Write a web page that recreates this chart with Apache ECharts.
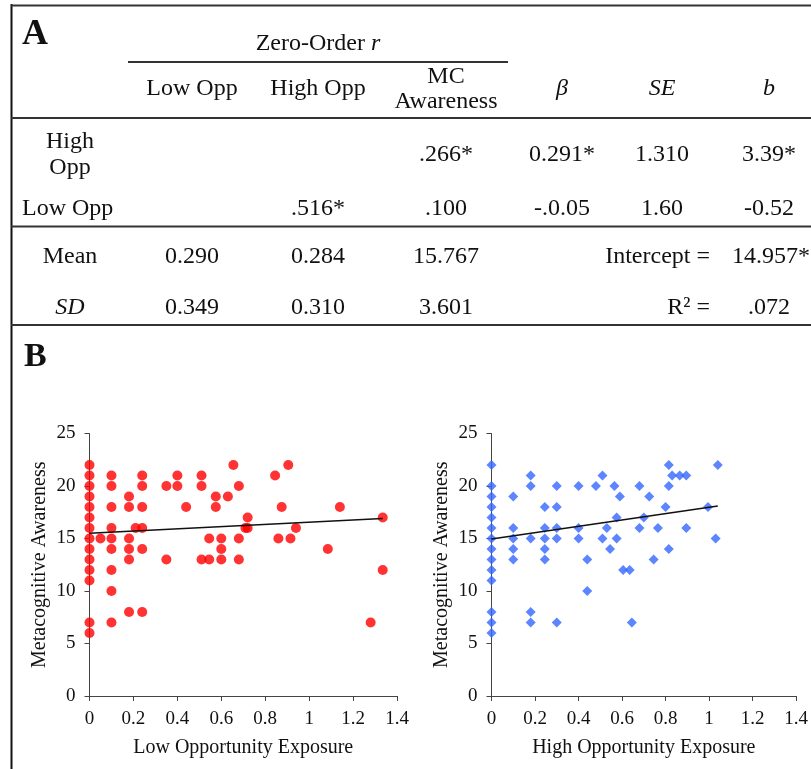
<!DOCTYPE html>
<html>
<head>
<meta charset="utf-8">
<script src="https://cdn.jsdelivr.net/npm/echarts@6/dist/echarts.min.js"></script>
<style>
html,body{margin:0;padding:0;background:#fff;}
#chart{width:811px;height:769px;}
</style>
</head>
<body>
<div id="chart"></div>
<script>
// ---------- Table (panel A) ----------
const zeroOrderTitle = 'Zero-Order {i|r}';
const colHeaders = ['Low Opp', 'High Opp', 'MC\nAwareness', '{i|β}', '{i|SE}', '{i|b}'];
const rowLabels = ['High\nOpp', 'Low Opp', 'Mean', '{i|SD}'];
const highOppRow = ['', '', '.266*', '0.291*', '1.310', '3.39*'];
const lowOppRow = ['', '.516*', '.100', '-.0.05', '1.60', '-0.52'];
const meanRow = ['0.290', '0.284', '15.767'];
const sdRow = ['0.349', '0.310', '3.601'];
const interceptLabel = 'Intercept =';
const interceptValue = '14.957*';
const r2Label = 'R² =';
const r2Value = '.072';

// ---------- Scatter data (panel B) ----------
const lowExposure = [
  0,0,0,0,0,0,0,0,0,0,0,0,0,0,
  0.05,
  0.1,0.1,0.1,0.1,0.1,0.1,0.1,0.1,0.1,
  0.18,0.18,0.18,0.18,0.18,0.18,
  0.21,
  0.24,0.24,0.24,0.24,0.24,0.24,
  0.35,0.35,
  0.4,0.4,
  0.44,
  0.51,0.51,0.51,
  0.545,0.545,
  0.575,0.575,
  0.6,0.6,0.6,
  0.63,
  0.655,
  0.68,0.68,0.68,
  0.71,
  0.72,0.72,
  0.845,
  0.86,
  0.875,
  0.905,
  0.915,
  0.94,
  1.085,
  1.14,
  1.28,
  1.335,1.335
];
const lowAwareness = [
  22,21,20,19,18,17,16,15,14,13,12,11,7,6,
  15,
  21,20,18,16,15,14,12,10,7,
  19,18,15,14,13,8,
  16,
  21,20,18,16,14,8,
  20,13,
  21,20,
  18,
  21,20,13,
  15,13,
  19,18,
  15,14,13,
  19,
  22,
  20,15,13,
  16,
  17,16,
  21,
  15,
  18,
  22,
  15,
  16,
  14,
  18,
  7,
  17,12
];
const highExposure = [
  0,0,0,0,0,0,0,0,0,0,0,0,0,0,
  0.1,0.1,0.1,0.1,0.1,
  0.18,0.18,0.18,0.18,0.18,
  0.245,0.245,0.245,0.245,0.245,
  0.3,0.3,0.3,0.3,0.3,
  0.4,0.4,0.4,
  0.44,0.44,
  0.48,
  0.51,0.51,
  0.53,
  0.545,
  0.565,
  0.575,0.575,
  0.59,
  0.605,
  0.635,
  0.645,
  0.68,0.68,
  0.7,
  0.725,
  0.745,
  0.765,
  0.8,
  0.815,0.815,0.815,
  0.83,
  0.865,
  0.895,0.895,
  0.995,
  1.03,
  1.04
];
const highAwareness = [
  22,20,19,18,17,16,15,14,13,12,11,8,7,6,
  19,16,15,14,13,
  21,20,15,8,7,
  18,16,15,14,13,
  20,18,16,15,7,
  20,16,15,
  13,10,
  20,
  21,15,
  16,
  14,
  20,
  17,15,
  19,
  12,
  12,
  7,
  20,16,
  17,
  19,
  13,
  16,
  18,
  22,20,14,
  21,
  21,
  21,16,
  18,
  15,
  22
];
const lowTrendX = [0, 1.335];
const lowTrendY = [15.5, 16.9];
const highTrendX = [0, 1.04];
const highTrendY = [14.95, 18.1];
const xTicks = { min: 0, max: 1.4, interval: 0.2 };
const yTicks = { min: 0, max: 25, interval: 5 };

const FONT = '"Liberation Serif", "Times New Roman", serif';
const TFS = 24;
const ital = { i: { fontStyle: 'italic', fontFamily: FONT, fontSize: TFS, fill: '#111' } };

function txt(text, x, y, opts) {
  opts = opts || {};
  return {
    type: 'text',
    z: 10,
    style: Object.assign({
      text: text, x: x, y: y,
      fill: '#111',
      fontFamily: FONT,
      fontSize: TFS,
      align: 'center',
      verticalAlign: 'middle',
      lineHeight: 25,
      rich: ital
    }, opts)
  };
}
function hline(x1, x2, y, w) {
  return { type: 'line', z: 10, shape: { x1: x1, y1: y, x2: x2, y2: y }, style: { stroke: '#333', lineWidth: w || 2 } };
}

const colX = [192, 318, 446, 562, 662, 769];
const labelX = 70;
const graphics = [];
// borders
graphics.push({ type: 'line', z: 10, shape: { x1: 11.5, y1: 4, x2: 11.5, y2: 769 }, style: { stroke: '#111', lineWidth: 2 } });
graphics.push(hline(11, 811, 5.5, 2));
graphics.push(hline(11, 811, 118, 2));
graphics.push(hline(11, 811, 226.5, 2));
graphics.push(hline(11, 811, 325, 2));
graphics.push(hline(128, 508, 62, 2));
// panel labels
graphics.push(txt('A', 22, 35, { fontWeight: 'bold', fontSize: 36, align: 'left' }));
graphics.push(txt('B', 24, 357, { fontWeight: 'bold', fontSize: 34, align: 'left' }));
// header
graphics.push(txt(zeroOrderTitle, 318, 44));
colHeaders.forEach(function (h, i) {
  graphics.push(txt(h, colX[i], 89));
});
// rows
graphics.push(txt(rowLabels[0], labelX, 155, { lineHeight: 26 }));
highOppRow.forEach(function (v, i) { if (v) graphics.push(txt(v, colX[i], 155)); });
graphics.push(txt(rowLabels[1], 22, 209, { align: 'left' }));
lowOppRow.forEach(function (v, i) { if (v) graphics.push(txt(v, colX[i], 209)); });
graphics.push(txt(rowLabels[2], labelX, 257));
meanRow.forEach(function (v, i) { graphics.push(txt(v, colX[i], 257)); });
graphics.push(txt(interceptLabel, 710, 257, { align: 'right' }));
graphics.push(txt(interceptValue, 732, 257, { align: 'left' }));
graphics.push(txt(rowLabels[3], labelX, 308));
sdRow.forEach(function (v, i) { graphics.push(txt(v, colX[i], 308)); });
graphics.push(txt(r2Label, 710, 308, { align: 'right' }));
graphics.push(txt(r2Value, 769, 308));

function pairs(xs, ys) { return xs.map(function (x, i) { return [x, ys[i]]; }); }

function xAxisCfg(idx, name) {
  return {
    gridIndex: idx, type: 'value', min: xTicks.min, max: xTicks.max, interval: xTicks.interval,
    name: name, nameLocation: 'middle', nameGap: 42,
    nameTextStyle: { fontFamily: FONT, fontSize: 20, color: '#111' },
    axisLine: { show: true, lineStyle: { color: '#444', width: 1 } },
    axisTick: { show: true, length: 5, lineStyle: { color: '#444' } },
    axisLabel: { fontFamily: FONT, fontSize: 19, color: '#111', margin: 14 },
    splitLine: { show: false }
  };
}
function yAxisCfg(idx) {
  return {
    gridIndex: idx, type: 'value', min: yTicks.min, max: yTicks.max, interval: yTicks.interval,
    name: 'Metacognitive Awareness', nameLocation: 'middle', nameGap: 40, nameRotate: 90,
    nameTextStyle: { fontFamily: FONT, fontSize: 20, color: '#111' },
    axisLine: { show: true, lineStyle: { color: '#444', width: 1 } },
    axisTick: { show: true, length: 5, lineStyle: { color: '#444' } },
    axisLabel: { fontFamily: FONT, fontSize: 19, color: '#111', margin: 14 },
    splitLine: { show: false }
  };
}

const chart = echarts.init(document.getElementById('chart'), null, { renderer: 'canvas' });
chart.setOption({
  backgroundColor: '#fff',
  animation: false,
  grid: [
    { left: 89.5, top: 433.5, width: 307.5, height: 262.5 },
    { left: 491.5, top: 433.5, width: 308, height: 262.5 }
  ],
  xAxis: [xAxisCfg(0, 'Low Opportunity Exposure'), xAxisCfg(1, 'High Opportunity Exposure')],
  yAxis: [yAxisCfg(0), yAxisCfg(1)],
  series: [
    { type: 'scatter', xAxisIndex: 0, yAxisIndex: 0, data: pairs(lowExposure, lowAwareness),
      symbol: 'circle', symbolSize: 10, itemStyle: { color: '#ff0000' }, z: 2 },
    { type: 'line', xAxisIndex: 0, yAxisIndex: 0, data: pairs(lowTrendX, lowTrendY),
      showSymbol: false, lineStyle: { color: '#111', width: 1.5 }, z: 3 },
    { type: 'scatter', xAxisIndex: 1, yAxisIndex: 1, data: pairs(highExposure, highAwareness),
      symbol: 'diamond', symbolSize: 10, itemStyle: { color: '#3366ff' }, z: 2 },
    { type: 'line', xAxisIndex: 1, yAxisIndex: 1, data: pairs(highTrendX, highTrendY),
      showSymbol: false, lineStyle: { color: '#111', width: 1.5 }, z: 3 }
  ],
  graphic: graphics
});
</script>
</body>
</html>
